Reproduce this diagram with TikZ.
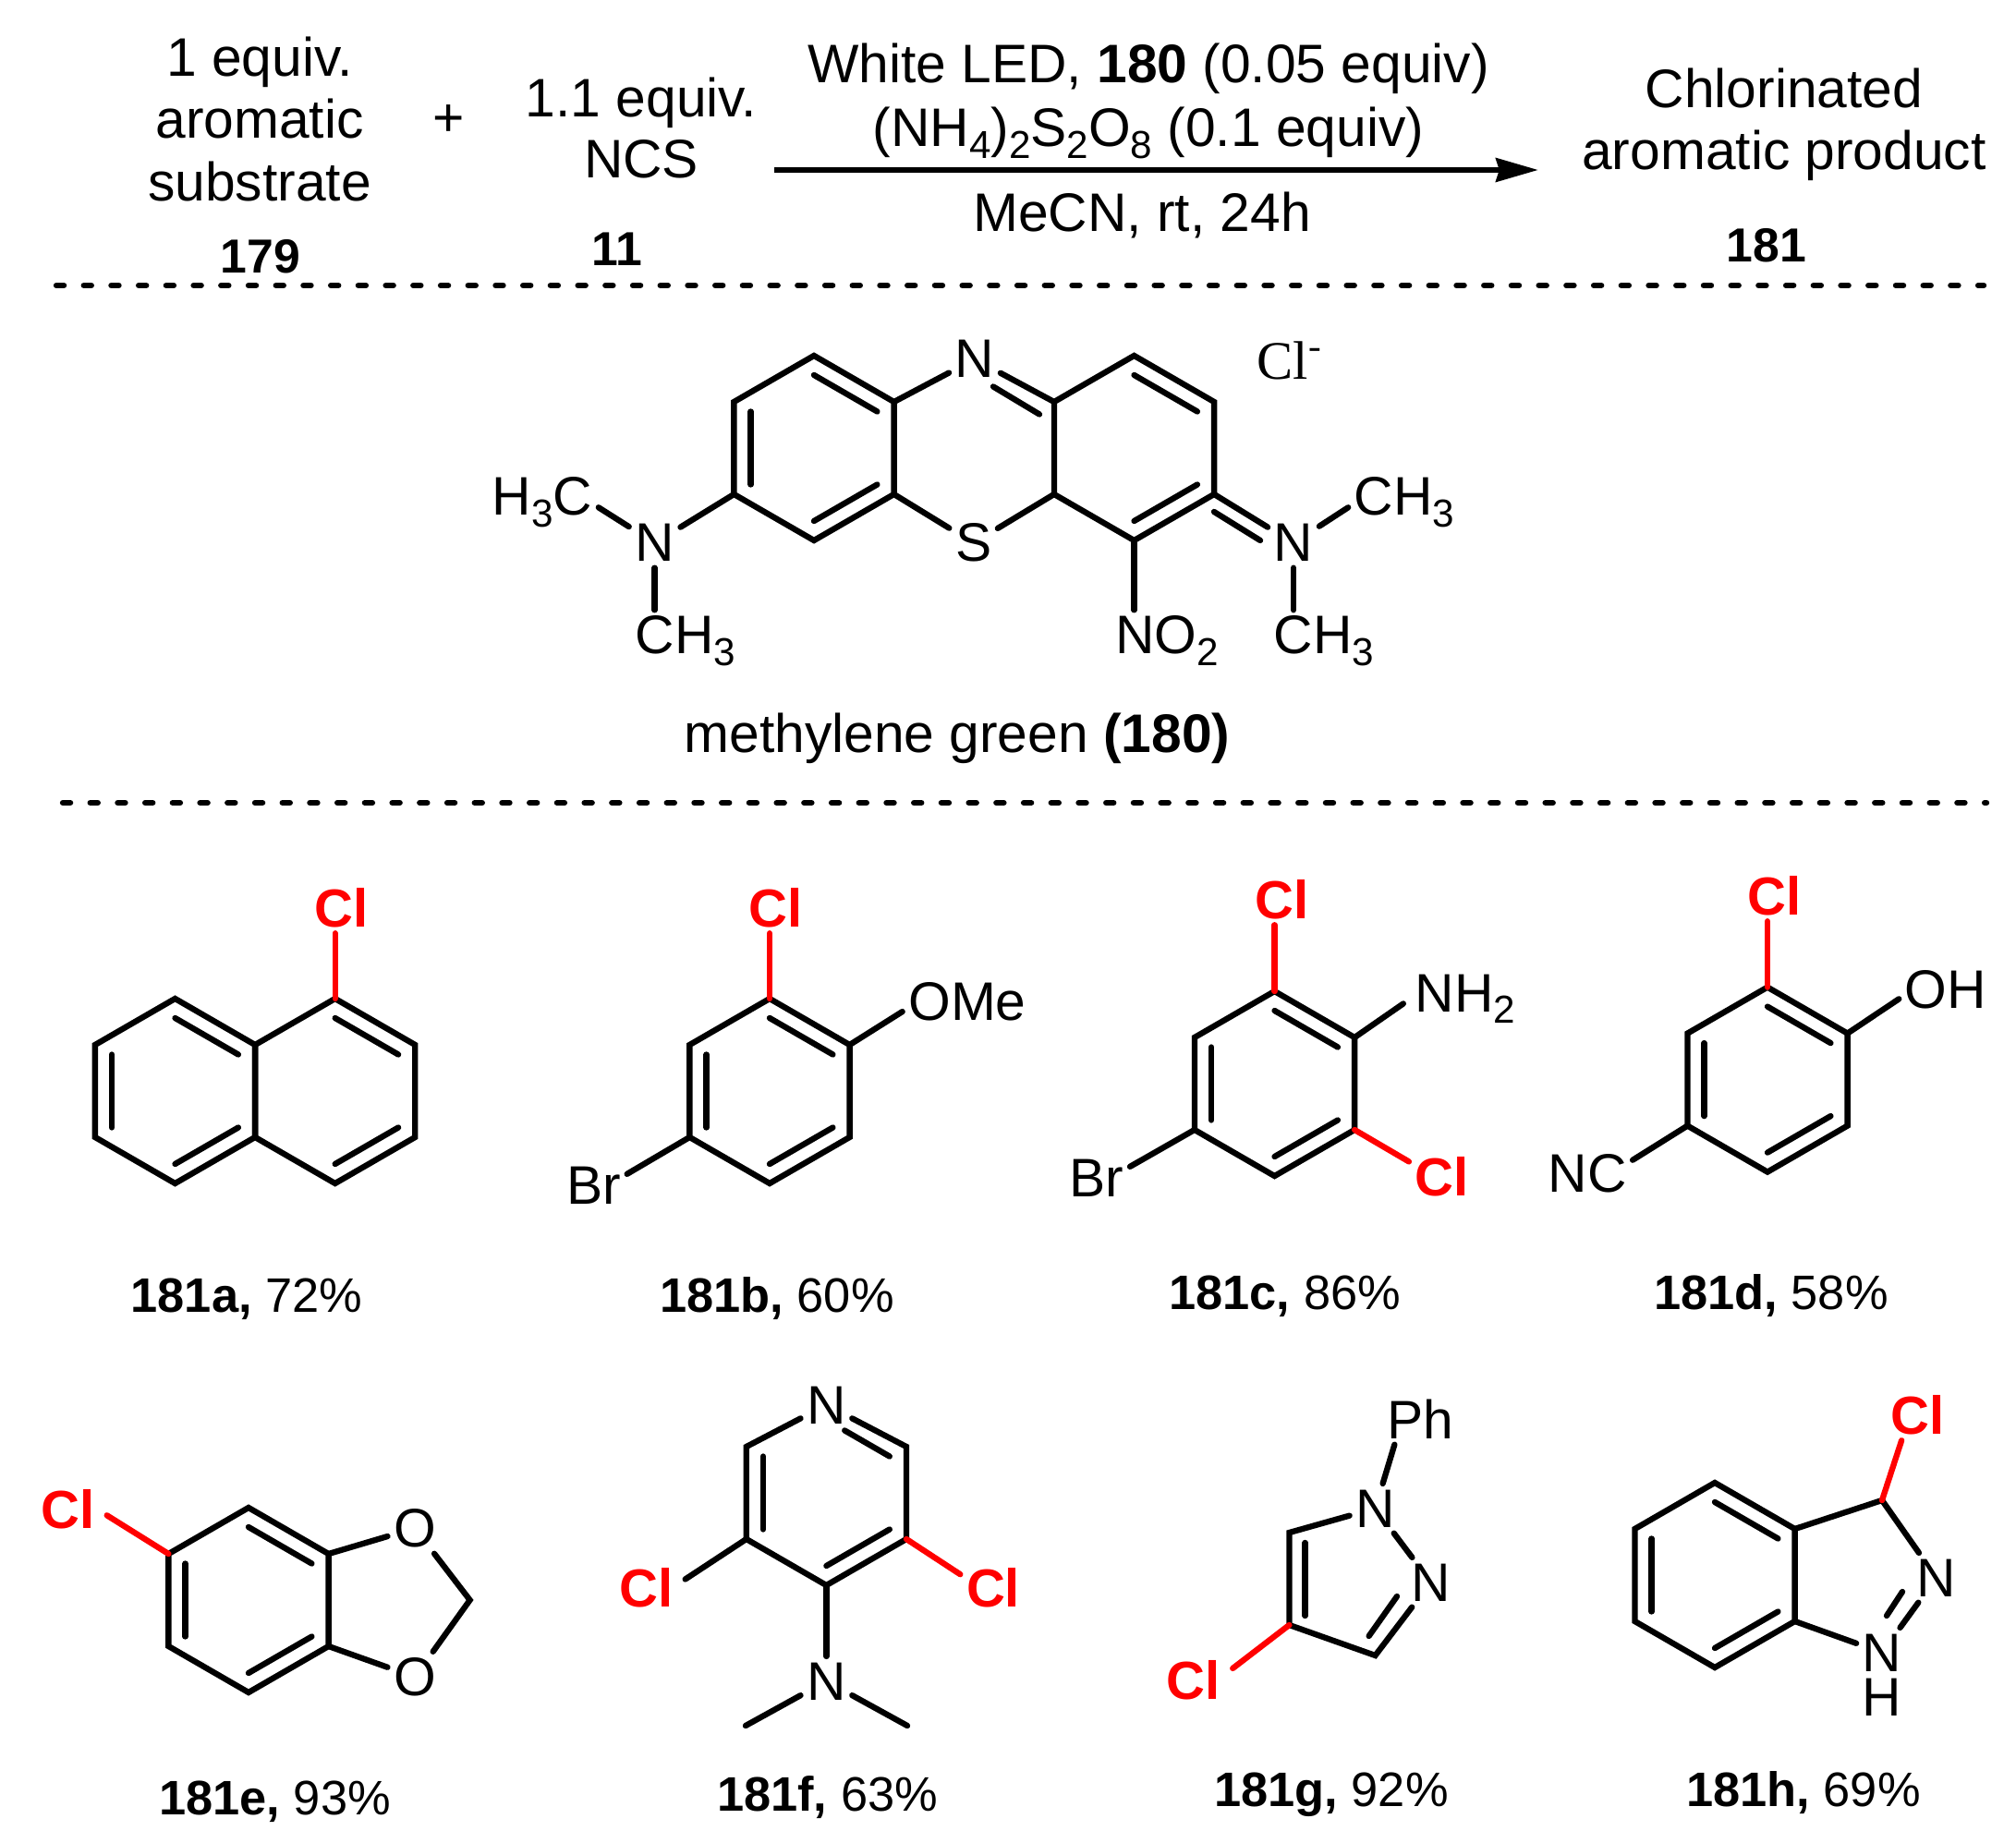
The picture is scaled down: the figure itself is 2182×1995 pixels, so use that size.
\documentclass[tikz,border=0pt]{standalone}
\usepackage{fontspec}
\setmainfont{Liberation Sans}
\newfontfamily\ionfont{Liberation Serif}
\usepackage{tikz}
\usetikzlibrary{calc,arrows.meta}
\newcommand{\subs}[1]{\raisebox{-3.6pt}{\fontsize{12}{12}\selectfont #1}}
\newcommand{\hexring}[3]{%
  \coordinate (#1) at (#2,#3);
  \coordinate (#11) at (#2,#3-100);
  \coordinate (#12) at (#2+86.6,#3-50);
  \coordinate (#13) at (#2+86.6,#3+50);
  \coordinate (#14) at (#2,#3+100);
  \coordinate (#15) at (#2-86.6,#3+50);
  \coordinate (#16) at (#2-86.6,#3-50);
}
\tikzset{
  bond/.style={line width=1.8pt, line cap=round, line join=miter, black},
  redbond/.style={bond, red},
  dotline/.style={line width=1.8pt, line cap=round, dash pattern=on 2.3pt off 6.15pt},
  lbl/.style={anchor=base, inner sep=1.7pt, font=\fontsize{16.7}{16.7}\selectfont},
  numlbl/.style={lbl, font=\fontsize{14.7}{14.7}\selectfont\bfseries},
  yieldlbl/.style={lbl, font=\fontsize{14.9}{14.9}\selectfont},
  clatom/.style={lbl, red, font=\fontsize{16.5}{16.5}\selectfont\bfseries}
}

\begin{document}
\begin{tikzpicture}[x=0.01cm, y=-0.01cm]
    \useasboundingbox (0,0) rectangle (2182,1995);

    % Reaction line
    \node[lbl] (sub1) at (281,83) {1 equiv.};
    \node[lbl] (sub2) at (281,150) {aromatic};
    \node[lbl] (sub3) at (281,218) {substrate};
    \node[numlbl] (sub4) at (282,296) {179};
    \node[lbl] (plus) at (486,148) {+};
    \node[lbl] (ncs1) at (694,127) {1.1 equiv.};
    \node[lbl] (ncs2) at (694,193) {NCS};
    \node[numlbl] (ncs3) at (668,288) {11};
    \node[lbl] (cond1) at (1243,90) {White LED, \textbf{180} (0.05 equiv)};
    \node[lbl] (cond2) at (1243,159) {(NH\subs{4})\subs{2}S\subs{2}O\subs{8} (0.1 equiv)};
    \node[lbl] (cond3) at (1236,251) {MeCN, rt, 24h};
    \node[lbl] (prod1) at (1931,117) {Chlorinated};
    \node[lbl] (prod2) at (1931,184) {aromatic product};
    \node[numlbl] (prod3) at (1912,284) {181};

    % Reaction arrow
    \coordinate (arrowL) at (838,184);
    \coordinate (arrowR) at (1665,184);
    \draw[line width=1.9pt, -{Stealth[length=13pt, width=7.2pt, inset=1pt]}] (arrowL) -- (arrowR);

    % Dotted separators
    \coordinate (sepA) at (61,309);
    \coordinate (sepB) at (2147,309);
    \coordinate (sepC) at (68,869);
    \coordinate (sepD) at (2150,869);
    \draw[dotline] (sepA) -- (sepB);
    \draw[dotline] (sepC) -- (sepD);

    % Methylene green
    \hexring{A}{881}{485}
    \hexring{B}{1227.5}{485}
    \node[lbl] (mgN) at (1055,409) {N};
    \node[lbl] (mgS) at (1053.6,608) {S};
    \node[lbl] (mgNa) at (708.6,608) {N};
    \node[lbl] (mgNb) at (1400,608) {N};
    \node[lbl] (mgH3C) at (587,558) {H\subs{3}C};
    \node[lbl] (mgCH3a) at (742,708) {CH\subs{3}};
    \node[lbl] (mgCH3b) at (1520,558) {CH\subs{3}};
    \node[lbl] (mgCH3c) at (1433,708) {CH\subs{3}};
    \node[lbl] (mgNO2) at (1263,708) {NO\subs{2}};
    \node[lbl] (mgCl) at (1396,411) {\ionfont Cl\textsuperscript{-}};
    \node[lbl] (mgName) at (1036,815) {methylene green \textbf{(180)}};

    \draw[bond] (A1) -- (A2) -- (A3) -- (A4) -- (A5) -- (A6) -- cycle;
    \draw[bond] (B1) -- (B2) -- (B3) -- (B4) -- (B5) -- (B6) -- cycle;
    \draw[bond] ($(A)!0.79!(A1)$) -- ($(A)!0.79!(A2)$);
    \draw[bond] ($(A)!0.79!(A3)$) -- ($(A)!0.79!(A4)$);
    \draw[bond] ($(A)!0.79!(A5)$) -- ($(A)!0.79!(A6)$);
    \draw[bond] ($(B)!0.79!(B1)$) -- ($(B)!0.79!(B2)$);
    \draw[bond] ($(B)!0.79!(B3)$) -- ($(B)!0.79!(B4)$);
    \draw[bond] (A2) -- (mgN);
    \draw[bond] (B6) -- (mgN);
    \coordinate (mgNi1) at (1075,418.5);
    \coordinate (mgNi2) at (1125,448.5);
    \draw[bond] (mgNi1) -- (mgNi2);
    \draw[bond] (A3) -- (mgS);
    \draw[bond] (B5) -- (mgS);
    \draw[bond] (A5) -- (mgNa);
    \draw[bond] (mgNa) -- ([yshift=-1.5pt]mgH3C.east);
    \draw[bond] (mgNa) -- (mgNa |- mgCH3a.north);
    \draw[bond] (B3) -- (mgNb);
    \coordinate (mgNbi1) at (1314,554);
    \coordinate (mgNbi2) at (1364,585);
    \draw[bond] (mgNbi1) -- (mgNbi2);
    \draw[bond] (mgNb) -- ([yshift=-1.5pt]mgCH3b.west);
    \draw[bond] (mgNb) -- (mgNb |- mgCH3c.north);
    \draw[bond] (B4) -- (B4 |- mgNO2.north);

    % 181a
    \hexring{C}{189.5}{1181}
    \hexring{D}{362.7}{1181}
    \node[clatom] (aCl) at (370,1003) {Cl};
    \node[yieldlbl] (aName) at (267,1420) {\textbf{181a,} 72\%};
    \draw[bond] (C1) -- (C2) -- (C3) -- (C4) -- (C5) -- (C6) -- cycle;
    \draw[bond] (D1) -- (D2) -- (D3) -- (D4) -- (D5) -- (D6) -- cycle;
    \draw[bond] ($(C)!0.79!(C1)$) -- ($(C)!0.79!(C2)$);
    \draw[bond] ($(C)!0.79!(C3)$) -- ($(C)!0.79!(C4)$);
    \draw[bond] ($(C)!0.79!(C5)$) -- ($(C)!0.79!(C6)$);
    \draw[bond] ($(D)!0.79!(D1)$) -- ($(D)!0.79!(D2)$);
    \draw[bond] ($(D)!0.79!(D3)$) -- ($(D)!0.79!(D4)$);
    \draw[redbond] (D1) -- (D1 |- aCl.south);

    % 181b
    \hexring{E}{833}{1181}
    \node[clatom] (bCl) at (840,1003) {Cl};
    \node[lbl] (bOMe) at (1047,1104) {OMe};
    \node[lbl] (bBr) at (642.6,1303) {Br};
    \node[yieldlbl] (bName) at (841,1420) {\textbf{181b,} 60\%};
    \draw[bond] (E1) -- (E2) -- (E3) -- (E4) -- (E5) -- (E6) -- cycle;
    \draw[bond] ($(E)!0.79!(E1)$) -- ($(E)!0.79!(E2)$);
    \draw[bond] ($(E)!0.79!(E3)$) -- ($(E)!0.79!(E4)$);
    \draw[bond] ($(E)!0.79!(E5)$) -- ($(E)!0.79!(E6)$);
    \draw[redbond] (E1) -- (E1 |- bCl.south);
    \draw[bond] (E2) -- ([yshift=-3.2pt]bOMe.west);
    \draw[bond] (E5) -- ([yshift=3.4pt]bBr.east);

    % 181c
    \hexring{F}{1379.5}{1173}
    \node[clatom] (cCl) at (1387.5,994) {Cl};
    \node[clatom] (cClb) at (1560.6,1294) {Cl};
    \node[lbl] (cNH2) at (1586,1095) {NH\subs{2}};
    \node[lbl] (cBr) at (1187,1295) {Br};
    \node[yieldlbl] (cName) at (1390.6,1417) {\textbf{181c,} 86\%};
    \draw[bond] (F1) -- (F2) -- (F3) -- (F4) -- (F5) -- (F6) -- cycle;
    \draw[bond] ($(F)!0.79!(F1)$) -- ($(F)!0.79!(F2)$);
    \draw[bond] ($(F)!0.79!(F3)$) -- ($(F)!0.79!(F4)$);
    \draw[bond] ($(F)!0.79!(F5)$) -- ($(F)!0.79!(F6)$);
    \draw[redbond] (F1) -- (F1 |- cCl.south);
    \draw[redbond] (F3) -- ([yshift=4.5pt]cClb.west);
    \draw[bond] (F2) -- ([xshift=-1.8pt,yshift=-1.5pt]cNH2.west);
    \draw[bond] (F5) -- ([yshift=3.4pt]cBr.east);

    % 181d
    \hexring{G}{1913}{1168.6}
    \node[clatom] (dCl) at (1920.5,990) {Cl};
    \node[lbl] (dOH) at (2106,1091) {OH};
    \node[lbl] (dNC) at (1718,1290) {NC};
    \node[yieldlbl] (dName) at (1917,1417) {\textbf{181d,} 58\%};
    \draw[bond] (G1) -- (G2) -- (G3) -- (G4) -- (G5) -- (G6) -- cycle;
    \draw[bond] ($(G)!0.79!(G1)$) -- ($(G)!0.79!(G2)$);
    \draw[bond] ($(G)!0.79!(G3)$) -- ($(G)!0.79!(G4)$);
    \draw[bond] ($(G)!0.79!(G5)$) -- ($(G)!0.79!(G6)$);
    \draw[redbond] (G1) -- (G1 |- dCl.south);
    \draw[bond] (G2) -- ([yshift=-3pt]dOH.west);
    \draw[bond] (G5) -- ([yshift=4pt]dNC.east);

    % 181e
    \hexring{H}{269}{1732}
    \node[clatom] (eCl) at (74,1654) {Cl};
    \node[lbl] (eOa) at (449,1674.5) {O};
    \node[lbl] (eOb) at (449,1835.5) {O};
    \coordinate (eCH2) at (508.6,1732);
    \node[yieldlbl] (eName) at (297.5,1964) {\textbf{181e,} 93\%};
    \draw[bond] (H1) -- (H2) -- (H3) -- (H4) -- (H5) -- (H6) -- cycle;
    \draw[bond] ($(H)!0.79!(H1)$) -- ($(H)!0.79!(H2)$);
    \draw[bond] ($(H)!0.79!(H3)$) -- ($(H)!0.79!(H4)$);
    \draw[bond] ($(H)!0.79!(H5)$) -- ($(H)!0.79!(H6)$);
    \draw[redbond] (H6) -- ([xshift=1.7pt,yshift=-2pt]eCl.east);
    \draw[bond] (H2) -- (eOa);
    \draw[bond] (H3) -- (eOb);
    \draw[bond] (eOa) -- (eCH2) -- (eOb);

    % 181f
    \hexring{I}{894.4}{1616}
    \node[lbl] (fN) at (894.4,1541) {N};
    \node[lbl] (fNb) at (894.4,1840) {N};
    \node[clatom] (fCl) at (700,1739) {Cl};
    \node[clatom] (fClb) at (1075,1739) {Cl};
    \coordinate (fMea) at (807,1868);
    \coordinate (fMeb) at (982,1868);
    \node[yieldlbl] (fName) at (895.5,1960) {\textbf{181f,} 63\%};
    \draw[bond] (fN) -- (I2) -- (I3) -- (I4) -- (I5) -- (I6) -- (fN);
    \draw[bond, shorten >=6.5pt] ($(I)!0.79!(I2)$) -- ($(I)!0.79!(I1)$);
    \draw[bond] ($(I)!0.79!(I3)$) -- ($(I)!0.79!(I4)$);
    \draw[bond] ($(I)!0.79!(I5)$) -- ($(I)!0.79!(I6)$);
    \draw[bond] (I5) -- ([xshift=1.7pt,yshift=2.5pt]fCl.east);
    \draw[redbond] (I3) -- ([yshift=4pt]fClb.west);
    \draw[bond] (I4) -- (fNb);
    \draw[bond] (fNb) -- (fMea);
    \draw[bond] (fNb) -- (fMeb);

    % 181g
    \node[lbl] (gPh) at (1537.5,1557) {Ph};
    \node[lbl] (gNa) at (1488.5,1653) {N};
    \node[lbl] (gNb) at (1548.6,1733) {N};
    \coordinate (gC5) at (1395.4,1659);
    \coordinate (gC4) at (1395.4,1759);
    \coordinate (gC3) at (1488.5,1792);
    \coordinate (gi1) at (1412.6,1670);
    \coordinate (gi2) at (1412.6,1749);
    \coordinate (gi3) at (1481.6,1771);
    \coordinate (gi4) at (1512,1728);
    \node[clatom] (gCl) at (1291.5,1839) {Cl};
    \node[yieldlbl] (gName) at (1441,1955) {\textbf{181g,} 92\%};
    \draw[bond] (gNa) -- (gC5) -- (gC4) -- (gC3) -- (gNb);
    \draw[bond] (gi1) -- (gi2);
    \draw[bond] (gi3) -- (gi4);
    \draw[bond] (gNa) -- (gNb);
    \draw[bond] (gNa) -- ([xshift=-8pt]gPh.south);
    \draw[redbond] (gC4) -- ([xshift=2pt,yshift=3.5pt]gCl.east);

    % 181h
    \hexring{J}{1856}{1705}
    \coordinate (hC3) at (2037,1624);
    \node[lbl] (hNa) at (2095.8,1728) {N};
    \node[lbl] (hNb) at (2037,1809) {N};
    \node[lbl, inner sep=0pt] (hH) at (2037,1857) {H};
    \node[clatom] (hCl) at (2075.7,1552) {Cl};
    \coordinate (hi1) at (2059,1723);
    \coordinate (hi2) at (2042,1749);
    \node[yieldlbl] (hName) at (1952,1955) {\textbf{181h,} 69\%};
    \draw[bond] (J1) -- (J2) -- (J3) -- (J4) -- (J5) -- (J6) -- cycle;
    \draw[bond] ($(J)!0.79!(J1)$) -- ($(J)!0.79!(J2)$);
    \draw[bond] ($(J)!0.79!(J3)$) -- ($(J)!0.79!(J4)$);
    \draw[bond] ($(J)!0.79!(J5)$) -- ($(J)!0.79!(J6)$);
    \draw[bond] (J2) -- (hC3) -- (hNa);
    \draw[bond] (hNa) -- (hNb);
    \draw[bond] (hi1) -- (hi2);
    \draw[bond] (J3) -- (hNb);
    \draw[redbond] (hC3) -- ([xshift=-5pt]hCl.south);
\end{tikzpicture}
\end{document}
